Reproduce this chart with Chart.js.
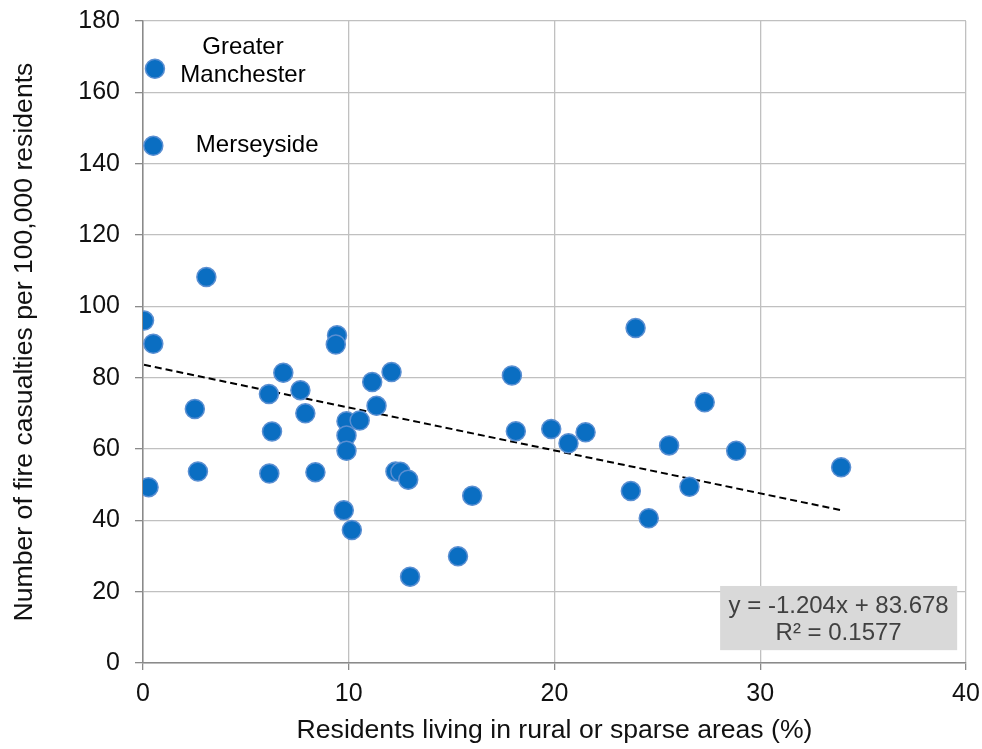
<!DOCTYPE html>
<html>
<head>
<meta charset="utf-8">
<title>Fire casualties vs rural residents</title>
<script src="https://cdn.jsdelivr.net/npm/chart.js@4/dist/chart.umd.min.js"></script>
<style>
  html, body { margin: 0; padding: 0; background: #ffffff; }
  #wrap { width: 982px; height: 749px; position: relative; }
</style>
</head>
<body>
<div id="wrap"><canvas id="chart" width="982" height="749"></canvas></div>
<script>
// Residents living in rural or sparse areas (%) for each fire and rescue area
const ruralPct = [
  0.05, 0.5, 3.08, 2.52, 2.67, 0.27, 6.12, 6.82, 6.27, 6.14,
  7.65, 7.89, 8.38, 9.43, 9.37, 9.89, 9.89, 9.89, 10.53, 11.14,
  11.35, 9.76, 10.15, 12.08, 12.27, 12.51, 12.89, 12.98, 15.31, 16.0,
  17.93, 18.12, 19.84, 20.68, 21.51, 23.94, 23.71, 24.58, 25.57, 27.30,
  26.56, 28.83, 33.93, 0.58, 0.50
];
// Fire casualties per 100,000 residents for the same areas
const casualtyRate = [
  96.0, 89.5, 108.2, 71.2, 53.7, 49.3, 75.4, 81.4, 64.9, 53.1,
  76.5, 70.0, 53.5, 91.9, 89.3, 67.8, 63.8, 59.5, 68.0, 78.8,
  72.1, 42.8, 37.3, 81.6, 53.7, 53.6, 51.4, 24.2, 29.9, 46.9,
  80.6, 65.0, 65.6, 61.6, 64.7, 93.9, 48.2, 40.6, 61.0, 73.1,
  49.4, 59.5, 54.9, 166.6, 145.0
];
// Linear trend fitted to the points
const trendSlope = -1.204;
const trendIntercept = 83.678;
const trendR2 = 0.1577;

const xTicks = [0, 10, 20, 30, 40];
const yTicks = [0, 20, 40, 60, 80, 100, 120, 140, 160, 180];

const points = ruralPct.map((x, i) => ({ x: x, y: casualtyRate[i] }));
const xMin = Math.min(...ruralPct), xMax = Math.max(...ruralPct);
const trendPoints = [xMin, xMax].map(x => ({ x: x, y: trendIntercept + trendSlope * x }));

const FONT = '"Liberation Sans", Arial, sans-serif';

// Labels for the two outlying metropolitan areas and the equation box
const overlay = {
  id: 'overlay',
  afterDatasetsDraw(chart) {
    const { ctx, scales: { x, y } } = chart;
    ctx.save();
    ctx.fillStyle = '#000000';
    ctx.font = '24px ' + FONT;
    ctx.textAlign = 'center';
    ctx.textBaseline = 'middle';
    ctx.fillText('Greater', x.getPixelForValue(4.86), y.getPixelForValue(172.6));
    ctx.fillText('Manchester', x.getPixelForValue(4.86), y.getPixelForValue(164.8));
    ctx.fillText('Merseyside', x.getPixelForValue(5.55), y.getPixelForValue(145.0));

    // equation box
    const bl = x.getPixelForValue(28.05), br = x.getPixelForValue(39.57);
    const bt = y.getPixelForValue(21.6), bb = y.getPixelForValue(3.6);
    ctx.fillStyle = '#d9d9d9';
    ctx.fillRect(bl, bt, br - bl, bb - bt);
    ctx.fillStyle = '#404040';
    ctx.font = '24px ' + FONT;
    const cx = (bl + br) / 2;
    ctx.fillText('y = ' + trendSlope.toFixed(3) + 'x + ' + trendIntercept.toFixed(3), cx, bt + 20);
    ctx.fillText('R\u00b2 = ' + trendR2.toFixed(4), cx, bt + 47);
    ctx.restore();
  }
};

new Chart(document.getElementById('chart'), {
  type: 'scatter',
  data: {
    datasets: [
      {
        label: 'Areas',
        data: points,
        pointRadius: 9.5,
        pointHoverRadius: 9.5,
        backgroundColor: '#0a6ec2',
        borderColor: '#5a8fd2',
        borderWidth: 1.5,
        order: 1
      },
      {
        label: 'Linear trend',
        type: 'line',
        data: trendPoints,
        borderColor: '#000000',
        borderWidth: 2,
        borderDash: [7, 4],
        pointRadius: 0,
        fill: false,
        order: 2
      }
    ]
  },
  options: {
    responsive: false,
    animation: false,
    events: [],
    layout: { padding: { top: 21, right: 16, left: 0, bottom: 0 } },
    plugins: {
      legend: { display: false },
      tooltip: { enabled: false }
    },
    scales: {
      x: {
        type: 'linear',
        min: 0,
        max: 40,
        afterBuildTicks(scale) { scale.ticks = xTicks.map(v => ({ value: v })); },
        afterFit(scale) {
          scale.height = 86;
          scale.paddingLeft = 0;
          scale.paddingRight = 0;
        },
        grid: {
          color: '#c0c0c0',
          lineWidth: 1.3,
          drawTicks: true,
          tickLength: 7,
          tickColor: '#8a8a8a'
        },
        border: { color: '#8a8a8a', width: 1.5 },
        ticks: {
          color: '#111111',
          font: { family: FONT, size: 25 },
          padding: 9,
          maxRotation: 0
        },
        title: {
          display: true,
          text: 'Residents living in rural or sparse areas (%)',
          color: '#111111',
          font: { family: FONT, size: 26.6 },
          padding: { top: 0, bottom: 2 }
        }
      },
      y: {
        type: 'linear',
        min: 0,
        max: 180,
        afterBuildTicks(scale) { scale.ticks = yTicks.map(v => ({ value: v })); },
        afterFit(scale) {
          scale.width = 143;
          scale.paddingTop = 0;
          scale.paddingBottom = 0;
        },
        grid: {
          color: '#c0c0c0',
          lineWidth: 1.3,
          drawTicks: true,
          tickLength: 8,
          tickColor: '#8a8a8a'
        },
        border: { color: '#8a8a8a', width: 1.5 },
        ticks: {
          color: '#111111',
          font: { family: FONT, size: 25 },
          padding: 15
        },
        title: {
          display: true,
          text: 'Number of fire casualties per 100,000 residents',
          color: '#111111',
          font: { family: FONT, size: 26.6 },
          padding: { top: 9, bottom: 0 }
        }
      }
    }
  },
  plugins: [overlay]
});
</script>
</body>
</html>
